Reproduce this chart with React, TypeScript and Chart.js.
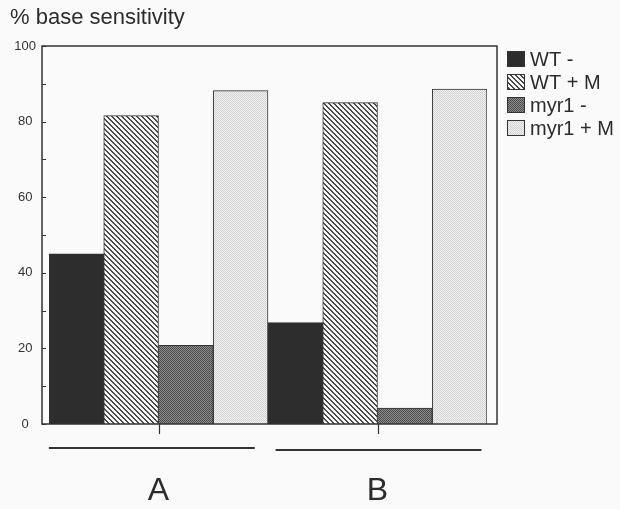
import React, { useEffect, useRef } from "react";
import { Chart, registerables } from "chart.js";

Chart.register(...registerables);

// ---- data ----
const categories = ["A", "B"];
const seriesLabels = ["WT -", "WT + M", "myr1 -", "myr1 + M"];
const wtMinus = [45.0, 26.8];
const wtPlusM = [81.6, 85.0];
const myr1Minus = [20.8, 4.2];
const myr1PlusM = [88.2, 88.6];
const yAxisTitle = "% base sensitivity";
const yMin = 0;
const yMax = 100;
const yStep = 10;
const yLabelEvery = 20;

const FONT = "'Liberation Sans', Arial, Helvetica, sans-serif";
const INK = "#2c2c2c";

function makePattern(size: number, paint: (ctx: CanvasRenderingContext2D) => void) {
  const c = document.createElement("canvas");
  c.width = size;
  c.height = size;
  const ctx = c.getContext("2d")!;
  paint(ctx);
  return ctx.createPattern(c, "repeat")!;
}

export default function App() {
  const ref = useRef<HTMLCanvasElement | null>(null);

  useEffect(() => {
    if (!ref.current) return;

    const solidDark = "#2d2d2d";
    const hatch = makePattern(5, (ctx) => {
      ctx.fillStyle = "#f6f6f6";
      ctx.fillRect(0, 0, 5, 5);
      ctx.fillStyle = "#4a4a4a";
      for (let i = 0; i < 5; i++) {
        ctx.fillRect(i, i, 1, 1);
        ctx.fillRect((i + 1) % 5, i, 1, 1);
      }
    });
    const darkStipple = makePattern(2, (ctx) => {
      ctx.fillStyle = "#8c8c8c";
      ctx.fillRect(0, 0, 2, 2);
      ctx.fillStyle = "#4c4c4c";
      ctx.fillRect(0, 0, 1, 1);
      ctx.fillRect(1, 1, 1, 1);
    });
    const lightStipple = makePattern(2, (ctx) => {
      ctx.fillStyle = "#f2f2f2";
      ctx.fillRect(0, 0, 2, 2);
      ctx.fillStyle = "#d2d2d2";
      ctx.fillRect(0, 0, 1, 1);
      ctx.fillRect(1, 1, 1, 1);
    });

    const fills = [solidDark, hatch, darkStipple, lightStipple];
    const values = [wtMinus, wtPlusM, myr1Minus, myr1PlusM];

    const decor = {
      id: "decor",
      afterDraw(chart: any) {
        const { ctx, chartArea } = chart;
        const x = chart.scales.x;
        const y = chart.scales.y;
        const top = y.getPixelForValue(yMax);
        const bottom = y.getPixelForValue(yMin);
        const left = chartArea.left - 7;
        const right = chartArea.right + 10;
        ctx.save();
        // frame
        ctx.strokeStyle = "#333";
        ctx.lineWidth = 1.5;
        ctx.strokeRect(left, top, right - left, bottom - top);
        // inner y ticks
        ctx.lineWidth = 1;
        y.ticks.forEach((t: any) => {
          const py = Math.round(y.getPixelForValue(t.value)) + 0.5;
          ctx.beginPath();
          ctx.moveTo(left, py);
          ctx.lineTo(left + 4, py);
          ctx.stroke();
        });
        // x tick marks and group underlines
        const half = (x.getPixelForValue(1) - x.getPixelForValue(0)) / 2;
        const spans = [
          [-1.01, 0.87, 448],
          [-0.94, 0.94, 450],
        ];
        categories.forEach((_, i) => {
          const px = Math.round(x.getPixelForValue(i)) + 0.5;
          ctx.lineWidth = 1.2;
          ctx.beginPath();
          ctx.moveTo(px, bottom);
          ctx.lineTo(px, bottom + 10);
          ctx.stroke();
          const s = spans[i];
          ctx.lineWidth = 2;
          ctx.beginPath();
          ctx.moveTo(px + s[0] * half, s[2]);
          ctx.lineTo(px + s[1] * half, s[2]);
          ctx.stroke();
        });
        // legend
        ctx.font = `20px ${FONT}`;
        ctx.textBaseline = "middle";
        ctx.textAlign = "left";
        chart.data.datasets.forEach((ds: any, i: number) => {
          const cy = 59 + i * 23;
          ctx.fillStyle = ds.backgroundColor;
          ctx.fillRect(507, cy - 8, 18, 16);
          ctx.strokeStyle = "#333";
          ctx.lineWidth = 1;
          ctx.strokeRect(507.5, cy - 7.5, 17, 15);
          ctx.fillStyle = INK;
          ctx.fillText(ds.label, 530, cy + 1);
        });
        ctx.restore();
      },
    };

    const chart = new Chart(ref.current, {
      type: "bar",
      data: {
        labels: categories,
        datasets: seriesLabels.map((label, i) => ({
          label,
          data: values[i],
          backgroundColor: fills[i] as any,
          borderColor: "#333",
          borderWidth: 1,
          barPercentage: 1,
          categoryPercentage: 1,
        })),
      },
      options: {
        responsive: false,
        animation: false,
        layout: { padding: { left: 10, right: 133, top: 0, bottom: 0 } },
        plugins: {
          legend: { display: false },
          tooltip: { enabled: false },
          title: {
            display: true,
            text: yAxisTitle,
            align: "start",
            color: INK,
            font: { family: FONT, size: 22, weight: "normal" },
            padding: { top: 5, bottom: 14.6 },
          },
        },
        scales: {
          x: {
            type: "category",
            grid: { display: false, drawTicks: false },
            border: { display: false },
            ticks: { font: { family: FONT, size: 32 }, color: INK, padding: 48 },
            afterFit: (s: any) => {
              s.height = 85;
            },
          },
          y: {
            min: yMin,
            max: yMax,
            grid: { display: false, drawTicks: false },
            border: { display: false },
            ticks: {
              stepSize: yStep,
              autoSkip: false,
              callback: (v: any) => (Number(v) % yLabelEvery === 0 ? String(v) : ""),
              font: { family: FONT, size: 13 },
              color: "#333",
              padding: 13,
              crossAlign: "center",
            },
            afterFit: (s: any) => {
              s.width = 39;
            },
          },
        },
      } as any,
      plugins: [decor],
    });
    return () => chart.destroy();
  }, []);

  return (
    <div style={{ position: "absolute", left: 0, top: 0, width: 620, height: 509, background: "#fafafa" }}>
      <canvas ref={ref} width={620} height={509} style={{ display: "block" }} />
    </div>
  );
}
